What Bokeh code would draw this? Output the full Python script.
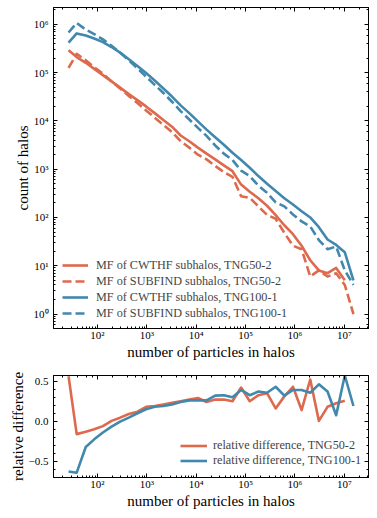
from bokeh.plotting import figure
from bokeh.layouts import column
from bokeh.models import (Range1d, LogAxis, LinearAxis, CustomJSTickFormatter, Legend,
                          LegendItem, SingleIntervalTicker, LogTicker)
from bokeh.embed import file_html
from bokeh.resources import INLINE

# ---- data ----
n_particles = [26, 38, 58, 86, 129, 193, 288, 432, 646, 966, 1445, 2163, 3236, 4842, 7244,
               10840, 16220, 24270, 36310, 54330, 81280, 121600, 182000, 272300, 407400,
               609500, 912000, 1.365e6, 2.042e6, 3.055e6, 4.571e6, 6.839e6, 1.023e7, 1.531e7]

mf_cwthf_tng50 = [2.9e5, 2.1e5, 1.6e5, 1.2e5, 8.9e4, 6.6e4, 4.9e4, 3.6e4, 2.7e4, 2.0e4,
                  1.45e4, 1.05e4, 7.6e3, 5.0e3, 3.8e3, 2.8e3, 2.1e3, 1.6e3, 1.2e3, 910,
                  480, 340, 250, 175, 112, 69, 45, 26, 13, 8, 7, 9, 5]
mf_subfind_tng50 = [1.26e5, 2.45e5, 1.8e5, 1.3e5, 9.5e4, 6.6e4, 4.7e4, 3.3e4, 2.35e4, 1.65e4,
                    1.17e4, 8.3e3, 5.9e3, 3.8e3, 2.8e3, 2.0e3, 1.6e3, 1.17e3, 870, 690,
                    275, 255, 170, 113, 94, 48, 26, 22, 6, 8, 6, 7, 4, 1]
mf_cwthf_tng100 = [4.2e5, 6.5e5, 5.9e5, 5.1e5, 4.3e5, 3.4e5, 2.6e5, 1.9e5, 1.38e5, 9.8e4,
                   6.9e4, 4.7e4, 3.2e4, 2.1e4, 1.45e4, 9.8e3, 6.6e3, 4.6e3, 3.2e3, 2.2e3,
                   1.55e3, 1.07e3, 720, 500, 355, 250, 186, 135, 100, 63, 35, 27, 19, 5]
mf_subfind_tng100 = [6.8e5, 1.07e6, 7.8e5, 6.3e5, 4.9e5, 3.6e5, 2.6e5, 1.8e5, 1.23e5, 8.3e4,
                     5.6e4, 3.8e4, 2.5e4, 1.6e4, 1.07e4, 7.2e3, 4.9e3, 3.1e3, 2.1e3, 1.55e3,
                     930, 720, 455, 325, 205, 170, 115, 83, 65, 34, 22, 25, 8, 4]

reldiff_tng50 = [0.56, -0.16, -0.13, -0.10, -0.06, 0.005, 0.045, 0.09, 0.12, 0.18,
                 0.19, 0.21, 0.23, 0.25, 0.27, 0.29, 0.24, 0.27, 0.27, 0.25,
                 0.42, 0.25, 0.325, 0.35, 0.16, 0.31, 0.43, 0.14, 0.52, 0.005,
                 0.18, 0.225, 0.255]
reldiff_tng100 = [-0.625, -0.64, -0.32, -0.225, -0.14, -0.066, -0.004, 0.046, 0.10, 0.15,
                  0.18, 0.19, 0.21, 0.24, 0.26, 0.26, 0.26, 0.32, 0.325, 0.30,
                  0.39, 0.325, 0.37, 0.355, 0.43, 0.32, 0.39, 0.39, 0.355, 0.46,
                  0.37, 0.075, 0.57, 0.19]

RED = "#DE6A4D"
BLUE = "#4188AE"
FONT = "Liberation Serif"

log_fmt = CustomJSTickFormatter(code="""
const s = {'0':'\u2070','1':'\u00b9','2':'\u00b2','3':'\u00b3','4':'\u2074','5':'\u2075',
           '6':'\u2076','7':'\u2077','8':'\u2078','9':'\u2079','-':'\u207b'};
const e = Math.round(Math.log10(tick));
return '10' + String(e).split('').map(c => s[c]).join('');
""")
lin_fmt = CustomJSTickFormatter(code="""
if (Math.abs(tick) < 1e-9) return '0.0';
return tick.toFixed(1).replace('-', '\u2212');
""")
empty_fmt = CustomJSTickFormatter(code="return '';")


def style_axis(ax):
    ax.major_tick_in = 4
    ax.major_tick_out = 0
    ax.minor_tick_in = 2
    ax.minor_tick_out = 0
    ax.axis_line_color = "black"
    ax.major_tick_line_color = "black"
    ax.minor_tick_line_color = "black"
    ax.major_label_text_font = FONT
    ax.major_label_text_font_size = "11px"
    ax.major_label_text_color = "black"
    ax.axis_label_text_font = FONT
    ax.axis_label_text_font_size = "15px"
    ax.axis_label_text_font_style = "normal"
    ax.axis_label_text_color = "black"


def mirror(p, kind, side):
    ticker = LogTicker() if kind == "log" else SingleIntervalTicker(interval=0.5, num_minor_ticks=5)
    ax = LogAxis(ticker=ticker) if kind == "log" else LinearAxis(ticker=ticker)
    style_axis(ax)
    ax.formatter = empty_fmt
    ax.major_label_text_font_size = "0px"
    ax.major_label_standoff = 0
    p.add_layout(ax, side)


x_range = Range1d(10 ** 1.11, 10 ** 7.49)

# ---- top panel ----
p1 = figure(x_axis_type="log", y_axis_type="log", x_range=x_range,
            y_range=Range1d(10 ** -0.3, 10 ** 6.35),
            frame_width=315, frame_height=321,
            min_border_left=53, min_border_right=1, min_border_top=7, min_border_bottom=40,
            output_backend="svg", toolbar_location=None)
p1.grid.visible = False
p1.outline_line_color = "black"
for ax in p1.xaxis + p1.yaxis:
    style_axis(ax)
p1.xaxis.formatter = log_fmt
p1.yaxis.formatter = log_fmt
p1.xaxis.axis_label = "number of particles in halos"
p1.yaxis.axis_label = "count of halos"
p1.xaxis.major_label_standoff = 0
p1.xaxis.axis_label_standoff = 0
p1.yaxis.major_label_standoff = 5
p1.yaxis.axis_label_standoff = 0
mirror(p1, "log", "right")
mirror(p1, "log", "above")

lw = 2.6
r1 = p1.line(n_particles[:len(mf_cwthf_tng50)], mf_cwthf_tng50, line_color=RED, line_width=lw,
             line_join="round")
r2 = p1.line(n_particles, mf_subfind_tng50, line_color=RED, line_width=lw, line_dash="9 4",
             line_join="round")
r3 = p1.line(n_particles, mf_cwthf_tng100, line_color=BLUE, line_width=lw, line_join="round")
r4 = p1.line(n_particles, mf_subfind_tng100, line_color=BLUE, line_width=lw, line_dash="9 4",
             line_join="round")

leg1 = Legend(items=[
    LegendItem(label="MF of CWTHF subhalos, TNG50-2", renderers=[r1]),
    LegendItem(label="MF of SUBFIND subhalos, TNG50-2", renderers=[r2]),
    LegendItem(label="MF of CWTHF subhalos, TNG100-1", renderers=[r3]),
    LegendItem(label="MF of SUBFIND subhalos, TNG100-1", renderers=[r4]),
], location=(9, 7), padding=0, margin=0, spacing=0, glyph_width=26, glyph_height=16,
    label_height=16, label_standoff=8, label_text_font=FONT, label_text_font_size="12.2px",
    background_fill_alpha=0, border_line_alpha=0)
p1.add_layout(leg1)

# ---- bottom panel ----
p2 = figure(x_axis_type="log", x_range=x_range, y_range=Range1d(-0.70, 0.57),
            frame_width=315, frame_height=102,
            min_border_left=53, min_border_right=1, min_border_top=7, min_border_bottom=31,
            output_backend="svg", toolbar_location=None)
p2.grid.visible = False
p2.outline_line_color = "black"
for ax in p2.xaxis + p2.yaxis:
    style_axis(ax)
p2.xaxis.formatter = log_fmt
p2.yaxis.ticker = SingleIntervalTicker(interval=0.5, num_minor_ticks=5)
p2.yaxis.formatter = lin_fmt
p2.xaxis.axis_label = "number of particles in halos"
p2.yaxis.axis_label = "relative difference"
p2.xaxis.major_label_standoff = 0
p2.xaxis.axis_label_standoff = 0
p2.yaxis.major_label_standoff = 5
p2.yaxis.axis_label_standoff = 0
mirror(p2, "lin", "right")
mirror(p2, "log", "above")

q1 = p2.line(n_particles[:len(reldiff_tng50)], reldiff_tng50, line_color=RED, line_width=lw,
             line_join="round")
q2 = p2.line(n_particles, reldiff_tng100, line_color=BLUE, line_width=lw, line_join="round")

leg2 = Legend(items=[
    LegendItem(label="relative difference, TNG50-2", renderers=[q1]),
    LegendItem(label="relative difference, TNG100-1", renderers=[q2]),
], location=(127, 9), padding=0, margin=0, spacing=0, glyph_width=27, glyph_height=15,
    label_height=15, label_standoff=6, label_text_font=FONT, label_text_font_size="12.2px",
    background_fill_alpha=0, border_line_alpha=0)
p2.add_layout(leg2)

layout = column(p1, p2, spacing=0)
open("out.html", "w").write(file_html(layout, INLINE))
